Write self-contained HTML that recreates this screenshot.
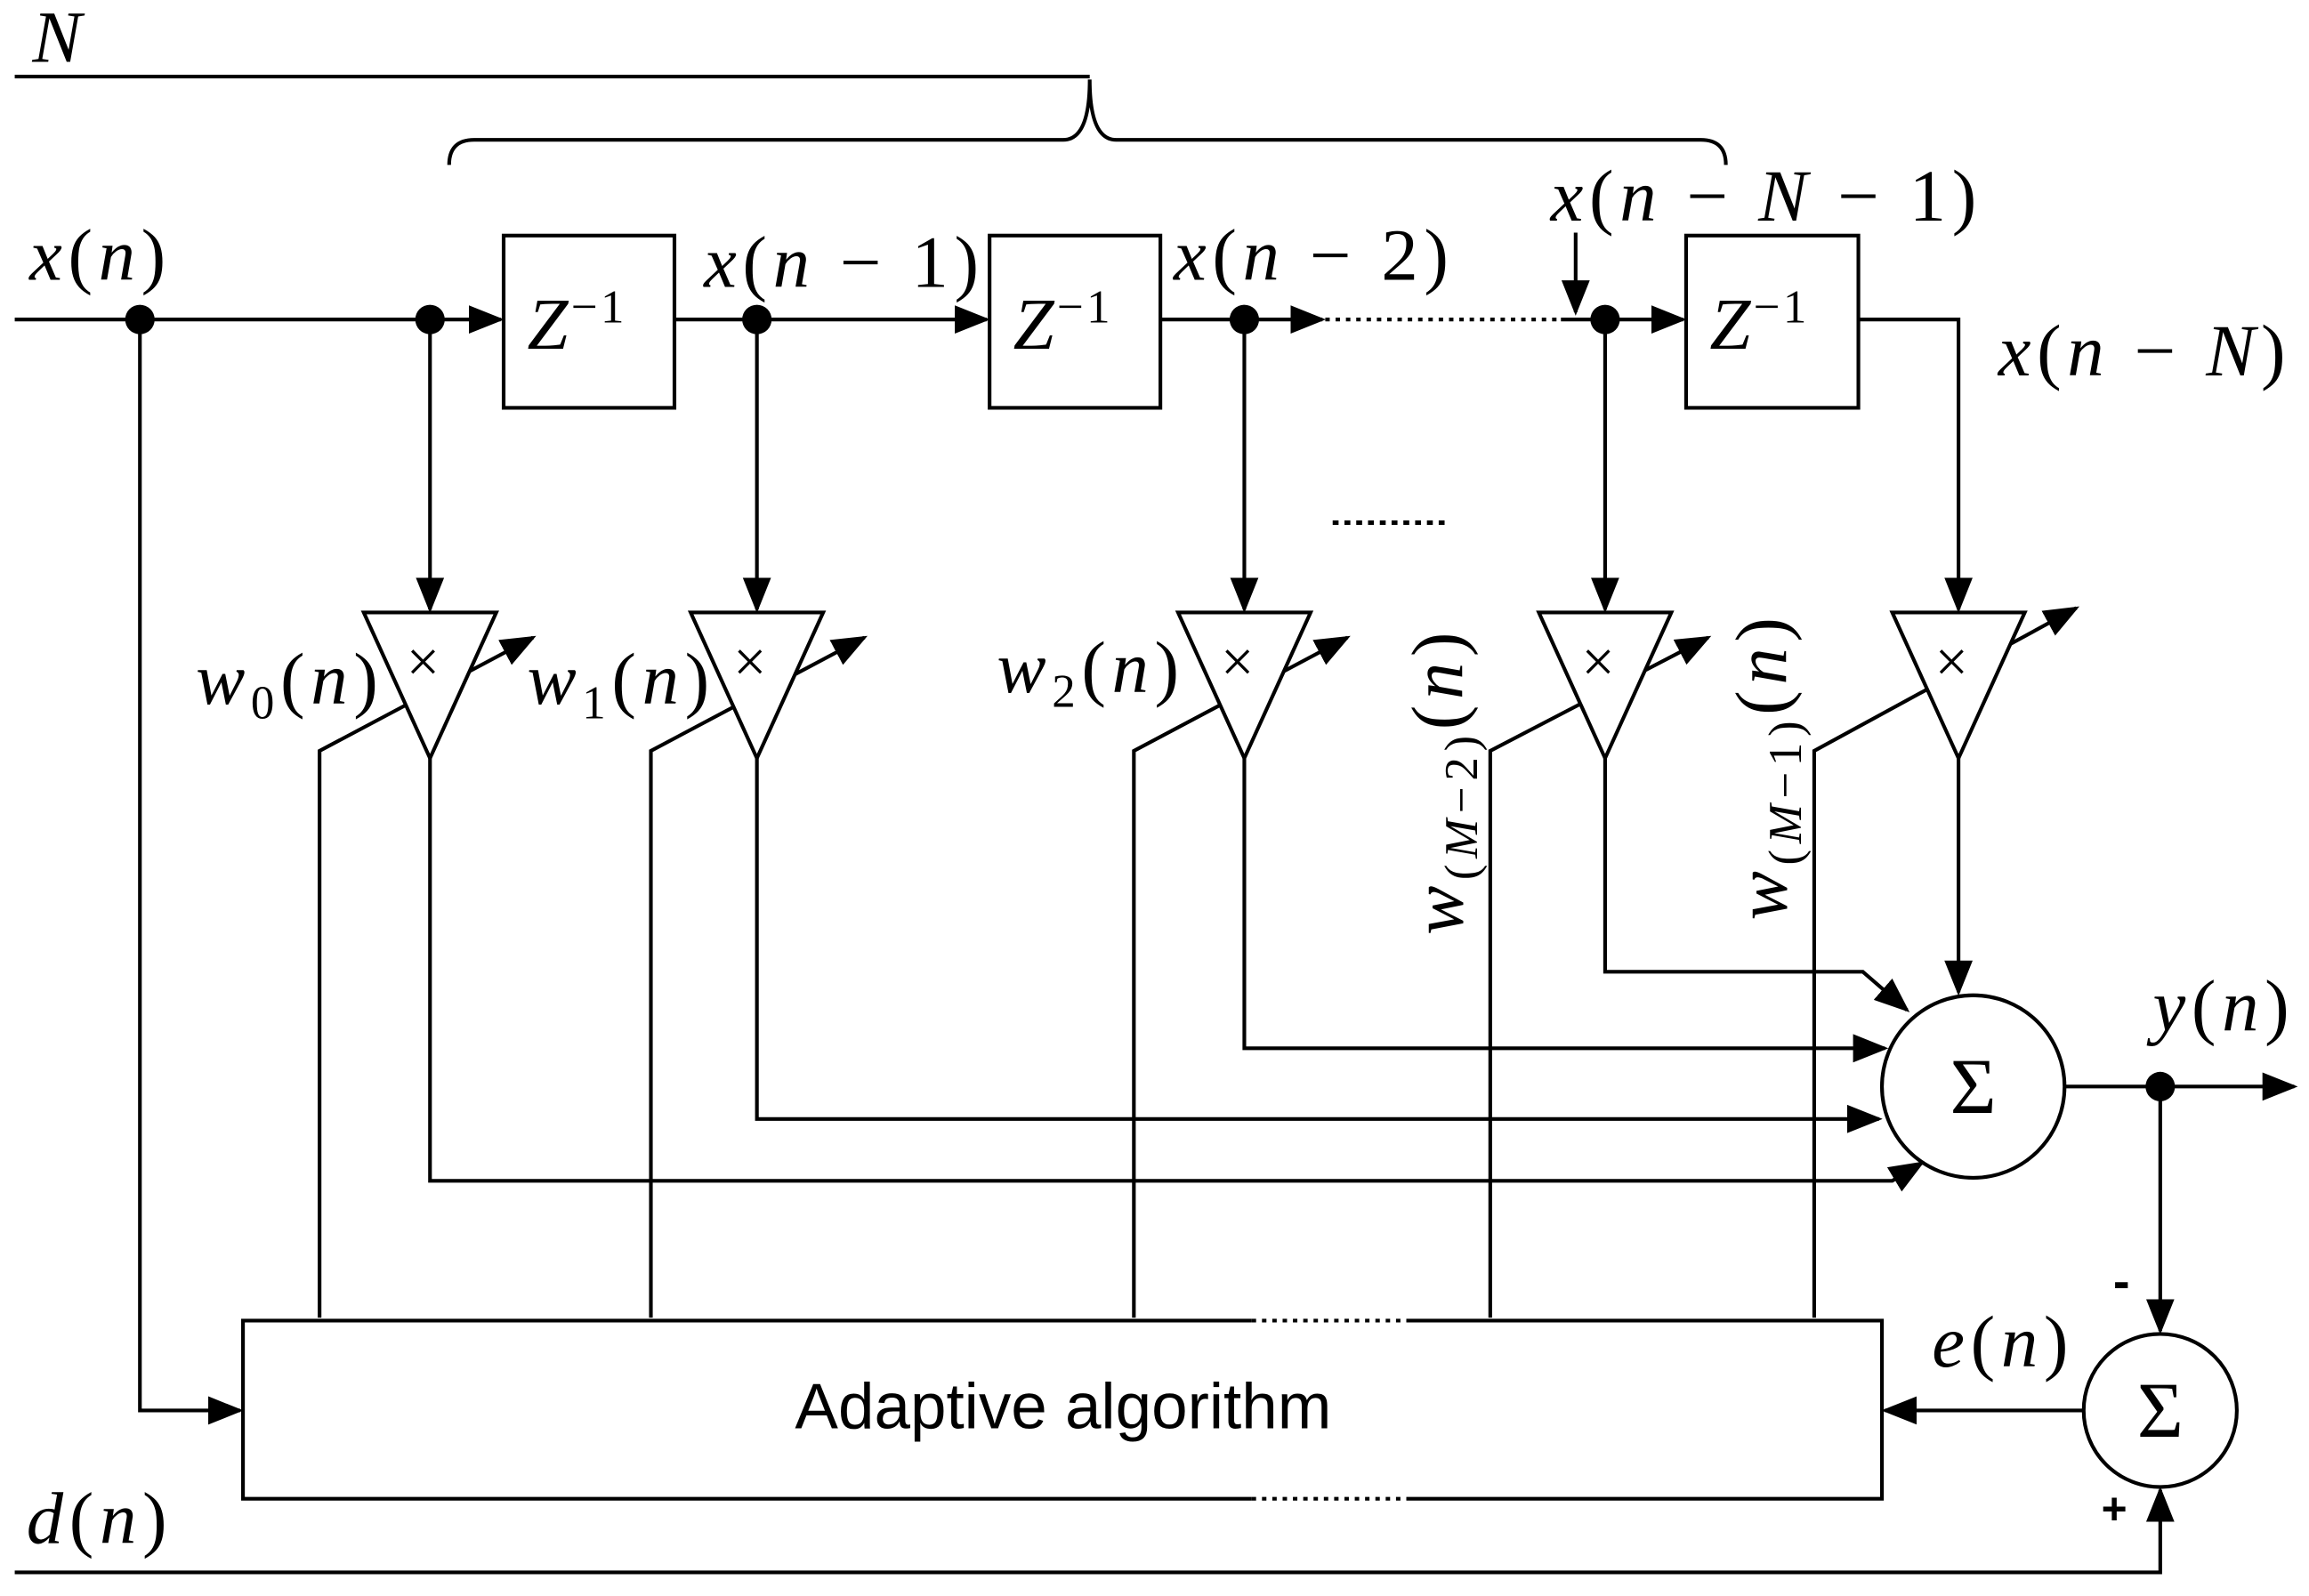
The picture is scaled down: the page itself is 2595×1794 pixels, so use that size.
<!DOCTYPE html>
<html><head><meta charset="utf-8"><style>html,body{margin:0;padding:0;background:#fff}</style></head>
<body>
<svg width="2595" height="1789" viewBox="0 0 1568 1081" xmlns="http://www.w3.org/2000/svg">
<defs>
<marker id="b" viewBox="0 0 10 10" refX="9" refY="5" markerWidth="24" markerHeight="24" markerUnits="userSpaceOnUse" orient="auto"><path d="M0,1 L10,5 L0,9 z" fill="#000"/></marker>
</defs>
<g stroke="#000" stroke-width="2.5" fill="none">
<path d="M10,52 L740,52"/>
<path d="M305,112 Q305,95 322,95 L722,95 Q740,95 740,54 Q740,95 758,95 L1155,95 Q1172,95 1172,112"/>
<path d="M10,217 L340,217" marker-end="url(#b)"/>
<rect x="342" y="160" width="116" height="117"/>
<path d="M458,217 L670,217" marker-end="url(#b)"/>
<rect x="672" y="160" width="116" height="117"/>
<path d="M788,217 L898,217" marker-end="url(#b)"/>
<path d="M900,217 L1060,217" stroke-dasharray="3,4"/>
<path d="M1060,217 L1143,217" marker-end="url(#b)"/>
<path d="M1070,158 L1070,212" marker-end="url(#b)"/>
<rect x="1145" y="160" width="117" height="117"/>
<path d="M1262,217 L1330,217 L1330,414" marker-end="url(#b)"/>
<path d="M292,217 L292,414" marker-end="url(#b)"/>
<path d="M514,217 L514,414" marker-end="url(#b)"/>
<path d="M845,217 L845,414" marker-end="url(#b)"/>
<path d="M1090,217 L1090,414" marker-end="url(#b)"/>
<path d="M905,355 L985,355" stroke-dasharray="4,4" stroke-width="3"/>
<path d="M217,895 L217,510 L362,433" marker-end="url(#b)"/>
<path d="M442,895 L442,510 L587,433" marker-end="url(#b)"/>
<path d="M770,895 L770,510 L915,433" marker-end="url(#b)"/>
<path d="M1012,895 L1012,510 L1160,433" marker-end="url(#b)"/>
<path d="M1232,895 L1232,510 L1410,413" marker-end="url(#b)"/>
<g fill="#fff">
<path d="M247,416 L337,416 L292,515 z"/>
<path d="M469,416 L559,416 L514,515 z"/>
<path d="M800,416 L890,416 L845,515 z"/>
<path d="M1045,416 L1135,416 L1090,515 z"/>
<path d="M1285,416 L1375,416 L1330,515 z"/>
</g>
<path d="M292,515 L292,802 L1285,802 L1305,790" marker-end="url(#b)"/>
<path d="M514,515 L514,760 L1276,760" marker-end="url(#b)"/>
<path d="M845,515 L845,712 L1280,712" marker-end="url(#b)"/>
<path d="M1090,515 L1090,660 L1265,660 L1295,686" marker-end="url(#b)"/>
<path d="M1330,515 L1330,674" marker-end="url(#b)"/>
<circle cx="1340" cy="738" r="62"/>
<path d="M1402,738 L1558,738" marker-end="url(#b)"/>
<path d="M1467,738 L1467,904" marker-end="url(#b)"/>
<circle cx="1467" cy="958" r="52"/>
<path d="M850,897 L165,897 L165,1018 L850,1018"/>
<path d="M955,897 L1278,897 L1278,1018 L955,1018"/>
<path d="M850,897 L955,897 M850,1018 L955,1018" stroke-dasharray="3,4"/>
<path d="M95,217 L95,958 L163,958" marker-end="url(#b)"/>
<path d="M1415,958 L1280,958" marker-end="url(#b)"/>
<path d="M10,1068 L1467,1068 L1467,1012" marker-end="url(#b)"/>
</g>
<g fill="#000">
<circle cx="95" cy="217" r="10"/><circle cx="292" cy="217" r="10"/><circle cx="514" cy="217" r="10"/>
<circle cx="845" cy="217" r="10"/><circle cx="1090" cy="217" r="10"/><circle cx="1467" cy="738" r="10"/>
</g>
<g font-family="Liberation Serif, serif" font-size="50" fill="#000" letter-spacing="4">
<text x="22" y="42" font-style="italic">N</text>
<text x="20" y="190"><tspan font-style="italic">x</tspan>(<tspan font-style="italic">n</tspan>)</text>
<text x="478" y="195"><tspan font-style="italic">x</tspan>(<tspan font-style="italic">n</tspan> − 1)</text>
<text x="797" y="190"><tspan font-style="italic">x</tspan>(<tspan font-style="italic">n</tspan> − 2)</text>
<text x="1053" y="150"><tspan font-style="italic">x</tspan>(<tspan font-style="italic">n</tspan> − <tspan font-style="italic">N</tspan> − 1)</text>
<text x="1357" y="255"><tspan font-style="italic">x</tspan>(<tspan font-style="italic">n</tspan> − <tspan font-style="italic">N</tspan>)</text>
<text x="358" y="237" letter-spacing="2"><tspan font-style="italic">Z</tspan><tspan font-size="32" dy="-18">−1</tspan></text>
<text x="688" y="237" letter-spacing="2"><tspan font-style="italic">Z</tspan><tspan font-size="32" dy="-18">−1</tspan></text>
<text x="1161" y="237" letter-spacing="2"><tspan font-style="italic">Z</tspan><tspan font-size="32" dy="-18">−1</tspan></text>
<text x="276" y="463" font-size="40" letter-spacing="0">×</text>
<text x="498" y="463" font-size="40" letter-spacing="0">×</text>
<text x="829" y="463" font-size="40" letter-spacing="0">×</text>
<text x="1074" y="463" font-size="40" letter-spacing="0">×</text>
<text x="1314" y="463" font-size="40" letter-spacing="0">×</text>
<text x="133" y="478"><tspan font-style="italic">w</tspan><tspan font-size="32" dy="10">0</tspan><tspan dy="-10">(</tspan><tspan font-style="italic">n</tspan>)</text>
<text x="358" y="478"><tspan font-style="italic">w</tspan><tspan font-size="32" dy="10">1</tspan><tspan dy="-10">(</tspan><tspan font-style="italic">n</tspan>)</text>
<text x="677" y="470"><tspan font-style="italic">w</tspan><tspan font-size="32" dy="10">2</tspan><tspan dy="-10">(</tspan><tspan font-style="italic">n</tspan>)</text>
<text transform="translate(993,635) rotate(-90)"><tspan font-style="italic">w</tspan><tspan font-size="32" dy="10">(<tspan font-style="italic">M</tspan>−2)</tspan><tspan dy="-10">(</tspan><tspan font-style="italic">n</tspan>)</text>
<text transform="translate(1213,625) rotate(-90)"><tspan font-style="italic">w</tspan><tspan font-size="32" dy="10">(<tspan font-style="italic">M</tspan>−1)</tspan><tspan dy="-10">(</tspan><tspan font-style="italic">n</tspan>)</text>
<text x="1340" y="756" font-size="54" text-anchor="middle" letter-spacing="0">Σ</text>
<text x="1467" y="976" font-size="54" text-anchor="middle" letter-spacing="0">Σ</text>
<text x="1462" y="700"><tspan font-style="italic">y</tspan>(<tspan font-style="italic">n</tspan>)</text>
<text x="1312" y="928"><tspan font-style="italic">e</tspan>(<tspan font-style="italic">n</tspan>)</text>
<text x="18" y="1048"><tspan font-style="italic">d</tspan>(<tspan font-style="italic">n</tspan>)</text>
</g>
<text x="1435" y="882" font-family="Liberation Sans, sans-serif" font-size="34" font-weight="bold">-</text>
<text x="1427" y="1035" font-family="Liberation Sans, sans-serif" font-size="30" font-weight="bold">+</text>
<text x="722" y="970" text-anchor="middle" font-family="Liberation Sans, sans-serif" font-size="44">Adaptive algorithm</text>
</svg>
</body></html>
